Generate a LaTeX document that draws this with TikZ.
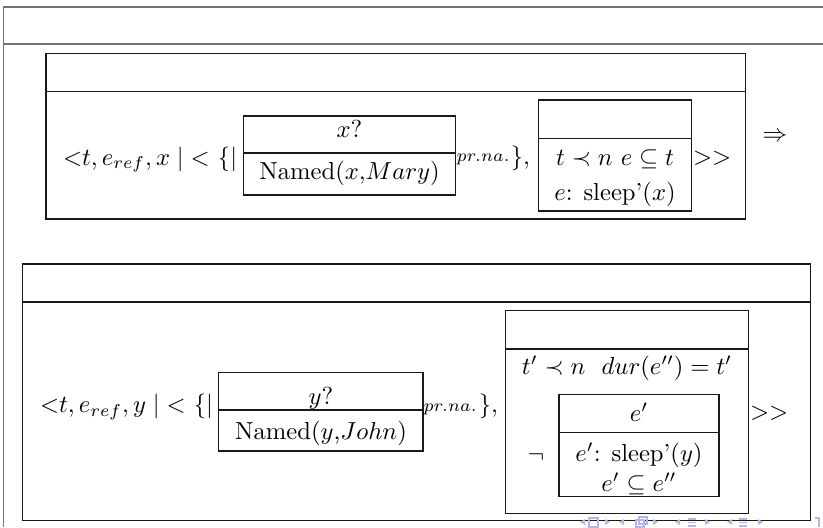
\documentclass[tikz,border=0pt]{standalone}
\usepackage{amsmath,amssymb}
\usepackage{xcolor}
\usepackage{tikz}

\definecolor{navblue}{RGB}{178,182,232}
\tikzset{
  frameline/.style={draw=black!55,line width=0.8pt},
  drsbox/.style={draw=black!90,line width=0.45pt,fill=none},
  drstext/.style={inner sep=0pt,outer sep=0pt,anchor=base},
  navtip/.style={fill=navblue,draw=none},
  navicon/.style={draw=navblue,line width=0.6pt,fill=none}
}

\begin{document}
\begin{tikzpicture}[x=.4065pt,y=-.4065pt]
\path[use as bounding box] (0,0) rectangle (823,527);
\path[fill=white,draw=none] (0,0) rectangle (823,527);
% outer frame
\draw[frameline] (823,6.7) -- (3.5,6.7) -- (3.5,527);
\draw[frameline] (3.5,44) -- (823,44);
% first DRS
\draw[drsbox] (46,53.5) rectangle (745.7,219);
\draw[drsbox] (46,91.7) -- (745.7,91.7);
\node[drstext,anchor=base west] (lhsA) at (63,165) {${<}t, e_{ref}, x \mid {<}\ \{|$};
\draw[drsbox] (243.3,116) rectangle (455.7,195);
\draw[drsbox] (243.3,153) -- (455.7,153);
\node[drstext] (qx) at (349.5,138) {$x?$};
\node[drstext] (namedx) at (349.5,179) {Named($x$,$Mary$)};
\node[drstext,anchor=base west] (subA) at (456.5,162) {$\scriptstyle pr.na.$};
\node[drstext,anchor=base east] (closeA) at (530,164.5) {$\},$};
\draw[drsbox] (538.3,100) rectangle (691.7,211);
\draw[drsbox] (538.3,138.3) -- (691.7,138.3);
\node[drstext] (condA) at (615,165) {$t \prec n\ e \subseteq t$};
\node[drstext] (sleepx) at (615,200) {$e$: sleep'($x$)};
\node[drstext,anchor=base west] (rhsA) at (693,164.5) {$>>$};
\node[inner sep=0pt] (impl) at (775,137) {$\Rightarrow$};
% second DRS
\draw[drsbox] (22.7,264) rectangle (810.7,520.7);
\draw[drsbox] (22.7,302) -- (810.7,302);
\node[drstext,anchor=base west] (lhsB) at (40,412.5) {${<}t, e_{ref}, y \mid {<}\ \{|$};
\draw[drsbox] (218.7,372.7) rectangle (423,451);
\draw[drsbox] (218.7,410) -- (423,410);
\node[drstext] (qy) at (321,404) {$y?$};
\node[drstext] (namedy) at (321,439) {Named($y$,$John$)};
\node[drstext,anchor=base west] (subB) at (423.5,411) {$\scriptstyle pr.na.$};
\node[drstext,anchor=base east] (closeB) at (498,412.5) {$\},$};
\draw[drsbox] (505.7,310.7) rectangle (748.3,513.3);
\draw[drsbox] (505.7,349) -- (748.3,349);
\node[drstext] (condB) at (627,374) {$t' \prec n\ \ dur(e'') = t'$};
\node[inner sep=0pt] (negB) at (536,457) {$\neg$};
\draw[drsbox] (559,394.3) rectangle (719,496.7);
\draw[drsbox] (559,432.3) -- (719,432.3);
\node[drstext] (evB) at (639,421) {$e'$};
\node[drstext] (sleepy) at (639,461) {$e'$: sleep'($y$)};
\node[drstext] (subev) at (639,491) {$e' \subseteq e''$};
\node[drstext,anchor=base west] (rhsB) at (750,419.5) {$>>$};
% navigation symbols
\foreach \cx in {583,622,678,730}
  \path[navtip] (\cx-3,522) -- (\cx+2,519) -- (\cx+2,525) -- cycle;
\foreach \cx in {607,655,707,760}
  \path[navtip] (\cx+3,522) -- (\cx-2,519) -- (\cx-2,525) -- cycle;
\draw[navicon] (589,518) rectangle (598,527);
\draw[navicon] (636,520) rectangle (644,527);
\draw[navicon] (639,517) rectangle (647,524);
\foreach \cx in {692,743} {
  \draw[navicon] (\cx-4,519) -- (\cx+4,519);
  \draw[navicon] (\cx-4,522.5) -- (\cx+4,522.5);
  \draw[navicon] (\cx-4,526) -- (\cx+4,526);
}
\draw[navicon] (815,518) -- (819,518) -- (819,527);
\end{tikzpicture}
\end{document}
